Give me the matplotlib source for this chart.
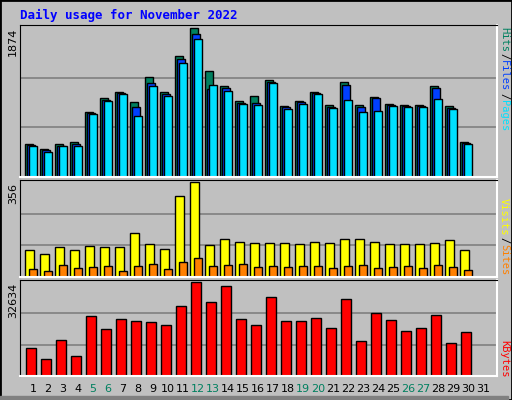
import matplotlib
matplotlib.use("Agg")
import matplotlib.pyplot as plt
import numpy as np
from matplotlib.patches import Rectangle

days = list(range(1, 32))
hits = [421, 357, 421, 434, 816, 995, 1071, 943, 1262, 1071, 1517, 1874, 1338, 1147, 956, 1020, 1224, 892, 956, 1071, 905, 1198, 905, 1007, 918, 905, 905, 1147, 892, 446, 0]
files = [400, 345, 395, 410, 800, 970, 1060, 880, 1180, 1050, 1480, 1800, 1110, 1120, 930, 930, 1200, 875, 940, 1060, 880, 1160, 880, 990, 900, 890, 890, 1120, 870, 430, 0]
pages = [385, 318, 385, 385, 790, 955, 1045, 765, 1150, 1020, 1435, 1735, 1160, 1080, 915, 900, 1180, 860, 920, 1040, 870, 970, 815, 830, 895, 880, 880, 985, 860, 410, 0]
visits = [100, 85, 112, 100, 116, 112, 112, 166, 124, 104, 305, 356, 120, 143, 131, 127, 127, 127, 124, 131, 127, 143, 143, 131, 124, 124, 124, 127, 139, 100, 0]
sites = [31, 23, 46, 35, 39, 43, 23, 43, 50, 31, 58, 70, 43, 46, 50, 39, 43, 39, 43, 43, 35, 43, 46, 35, 39, 43, 35, 46, 39, 27, 0]
kbytes = [9683, 5739, 12551, 6813, 20880, 16218, 19805, 19088, 18730, 17654, 24109, 32634, 25543, 31200, 19805, 17654, 27302, 19088, 19088, 20163, 16576, 26595, 12192, 21955, 19446, 15500, 16576, 21238, 11475, 15142, 0]
weekend = {5, 6, 12, 13, 19, 20, 26, 27}

BG = "#C0C0C0"
W, H = 512, 400
fig = plt.figure(figsize=(W/100, H/100), dpi=100, facecolor=BG)
fig.patches.append(Rectangle((0, 0), 1, 1, transform=fig.transFigure, fill=False, edgecolor="black", lw=2))
fig.patches.append(Rectangle((0, 0), 508/W, 4/H, transform=fig.transFigure, color="#808080"))

def ax_at(x0, y0, x1, y1):
    return fig.add_axes([x0/W, 1-y1/H, (x1-x0)/W, (y1-y0)/H])

xl = (0.133, 31.93)
x = np.array(days, dtype=float)
ek = dict(edgecolor="black", linewidth=1, align="edge")

def style(ax, ymax, label, ytop):
    ax.set_facecolor(BG)
    ax.set_xlim(*xl)
    ax.set_ylim(0, ymax*1.02)
    ax.set_xticks([])
    ax.set_yticks([])
    for s in ["right", "bottom"]:
        ax.spines[s].set_color("white"); ax.spines[s].set_linewidth(1.5)
    for s in ["left", "top"]:
        ax.spines[s].set_color("black")
    for g in (ymax/3, 2*ymax/3):
        ax.axhline(g, color="#808080", lw=1.2, zorder=0)
    fig.text(13/W, 1-ytop/H, label, rotation=90, ha="center", va="top", fontsize=8)

ax1 = ax_at(20, 25, 497, 177)
style(ax1, 1874, "1874", 28)
ax1.bar(x-0.53, hits, 0.51, color="#00805F", **ek)
ax1.bar(x-0.40, files, 0.51, color="#0040FF", **ek)
ax1.bar(x-0.27, pages, 0.51, color="#00E0FF", **ek)

ax2 = ax_at(20, 180, 497, 277)
style(ax2, 356, "356", 183)
ax2.bar(x-0.53, visits, 0.58, color="#FFFF00", **ek)
ax2.bar(x-0.27, sites, 0.51, color="#FF8000", **ek)

ax3 = ax_at(20, 280, 497, 376)
style(ax3, 32634, "32634", 283)
ax3.bar(x-0.47, kbytes, 0.7, color="#FF0000", **ek)

for d in days:
    xp = (20 + (d - xl[0]) * 15) / W
    fig.text(xp, 1-389/H, str(d), ha="center", va="center", fontsize=8,
             color="#00805F" if d in weekend else "black")

fig.text(20/W, 1-15/H, "Daily usage for November 2022", color="#0000FF", fontsize=9,
         family="DejaVu Sans Mono", fontweight="bold", va="center")

def side(y_top, parts):
    y = y_top
    for txt, c in parts:
        fig.text(504/W, 1-y/H, txt, rotation=270, ha="center", va="top", fontsize=7.5,
                 family="DejaVu Sans Mono", color=c)
        y += len(txt) * 6.3 + 1

side(27, [("Hits", "#00805F"), ("/", "black"), ("Files", "#0040FF"), ("/", "black"), ("Pages", "#00E0FF")])
side(198, [("Visits", "#FFFF00"), ("/", "black"), ("Sites", "#FF8000")])
side(340, [("KBytes", "#FF0000")])

fig.savefig("out.png", dpi=100, facecolor=BG)
